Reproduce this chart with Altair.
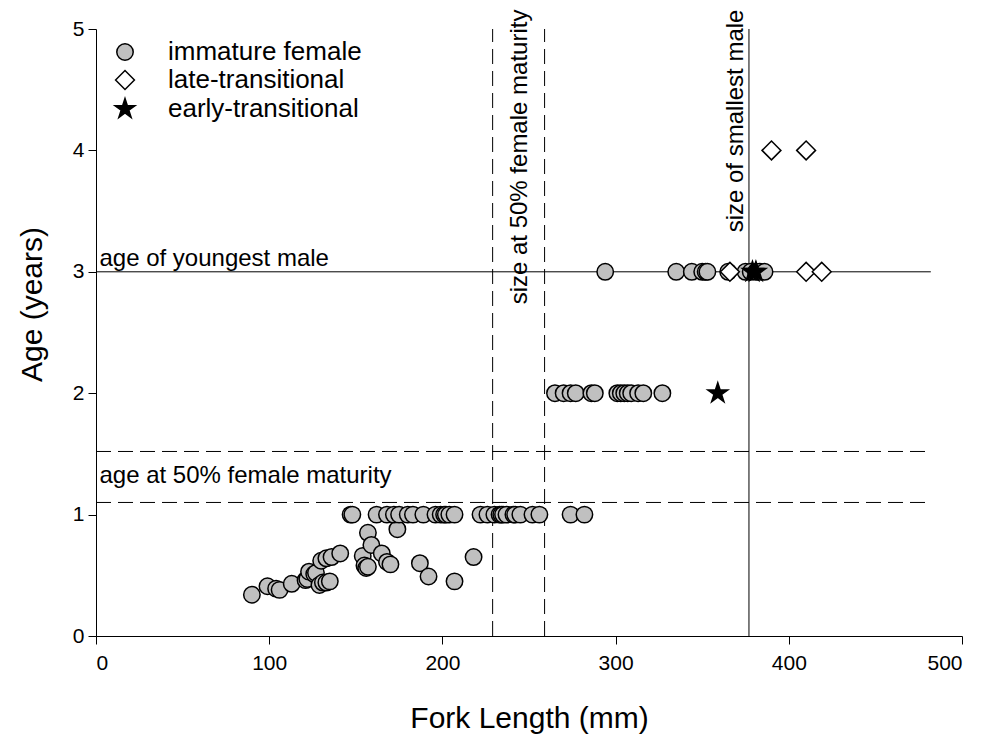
import altair as alt
import pandas as pd

FONT = "Liberation Sans"

# Immature females: fork length (mm) and age (years)
imm_len = [
    # age 0+ fish
    90, 99, 104, 106, 113, 121, 122, 123, 126, 127, 129, 130, 131, 133, 133,
    135, 136, 141, 154, 155, 156, 157, 157, 159, 165, 168, 170, 174, 187,
    192, 207, 218,
    # age 1
    147, 148, 162, 168, 172, 175, 180, 183, 189, 196, 199, 201, 202, 204,
    207, 222, 226, 230, 233, 234, 235, 237, 241, 242, 245, 252, 256, 274, 282,
    # age 2
    265, 270, 274, 277, 286, 288, 301, 303, 305, 307, 309, 313, 316, 327,
    # age 3
    294, 335, 344, 350, 352, 353, 365, 375, 378, 381, 383, 386,
]
imm_age = [
    0.34, 0.41, 0.39, 0.38, 0.43, 0.46, 0.47, 0.53, 0.51, 0.52, 0.42, 0.62,
    0.44, 0.64, 0.44, 0.45, 0.65, 0.68, 0.66, 0.58, 0.56, 0.85, 0.57, 0.75,
    0.68, 0.61, 0.59, 0.88, 0.60, 0.49, 0.45, 0.65,
    1, 1, 1, 1, 1, 1, 1, 1, 1, 1, 1, 1, 1, 1,
    1, 1, 1, 1, 1, 1, 1, 1, 1, 1, 1, 1, 1, 1, 1,
    2, 2, 2, 2, 2, 2, 2, 2, 2, 2, 2, 2, 2, 2,
    3, 3, 3, 3, 3, 3, 3, 3, 3, 3, 3, 3,
]

# Late-transitional fish
late_len = [366, 410, 419, 390, 410]
late_age = [3, 3, 3, 4, 4]

# Early-transitional fish
early_len = [379, 381, 359]
early_age = [3, 3, 2]

STAR = ("M0,-1L0.2245,-0.309L0.9511,-0.309L0.3633,0.118L0.5878,0.809"
        "L0,0.382L-0.5878,0.809L-0.3633,0.118L-0.9511,-0.309L-0.2245,-0.309Z")

stages = ["immature female", "late-transitional", "early-transitional"]
stage_shapes = ["circle", "diamond", STAR]
stage_fills = ["#c0c0c0", "#ffffff", "#000000"]
stage_strokes = ["#000000", "#000000", "#000000"]
stage_sizes = [270, 440, 900]

# Reference lines: sizes (mm) and ages (years)
vline_len = [229, 259, 377]
vline_style = ["dash", "dash", "solid"]
hline_age = [1.1, 1.52, 3.0]
hline_style = ["dash", "dash", "solid"]

points = pd.DataFrame({
    "length": imm_len + late_len + early_len,
    "age": imm_age + late_age + early_age,
    "stage": [stages[0]] * len(imm_len) + [stages[1]] * len(late_len)
    + [stages[2]] * len(early_len),
})

vlines = pd.DataFrame({"length": vline_len, "a0": 0, "a1": 5, "style": vline_style})
hlines = pd.DataFrame({"age": hline_age, "l0": 0, "l1": 482, "style": hline_style})

x_scale = alt.Scale(domain=[0, 500], nice=False, zero=False)
y_scale = alt.Scale(domain=[0, 5], nice=False, zero=False)
dash_scale = alt.Scale(domain=["dash", "solid"], range=[[15, 7], [1, 0]])

x_axis = alt.Axis(
    values=[0, 100, 200, 300, 400, 500], format="d", grid=False,
    title="Fork Length (mm)", titleFontSize=30, titleFont=FONT,
    titleFontWeight="normal", titleColor="black",
    titleX=433, titleY=82, titleBaseline="middle", titleAlign="center",
    labelFontSize=21, labelFont=FONT, labelColor="black", labelPadding=8,
    tickSize=8, tickColor="black", domainColor="black",
)
y_axis = alt.Axis(
    values=[0, 1, 2, 3, 4, 5], format="d", grid=False,
    title="Age (years)", titleFontSize=30, titleFont=FONT,
    titleFontWeight="normal", titleColor="black", titleAngle=270,
    titleX=-64, titleY=275, titleBaseline="middle", titleAlign="center",
    labelFontSize=21, labelFont=FONT, labelColor="black", labelPadding=4,
    tickSize=8, tickColor="black", domainColor="black",
)

legend = alt.Legend(
    title=None, orient="none", legendX=16, legendY=10,
    labelFontSize=26, labelFont=FONT, labelColor="black", labelOffset=30,
    labelLimit=400, symbolStrokeColor="black", symbolStrokeWidth=1.5,
    symbolOpacity=1, rowPadding=2, padding=0,
)

v_rules = alt.Chart(vlines).mark_rule(color="black", strokeWidth=1).encode(
    x=alt.X("length:Q", scale=x_scale, axis=x_axis),
    y=alt.Y("a0:Q", scale=y_scale, axis=y_axis),
    y2="a1:Q",
    strokeDash=alt.StrokeDash("style:N", scale=dash_scale, legend=None),
)
h_rules = alt.Chart(hlines).mark_rule(color="black", strokeWidth=1).encode(
    x=alt.X("l0:Q", scale=x_scale),
    x2="l1:Q",
    y=alt.Y("age:Q", scale=y_scale),
    strokeDash=alt.StrokeDash("style:N", scale=dash_scale, legend=None),
)

dots = alt.Chart(points).mark_point(
    filled=True, strokeWidth=1.5, opacity=1
).encode(
    x=alt.X("length:Q", scale=x_scale),
    y=alt.Y("age:Q", scale=y_scale),
    shape=alt.Shape("stage:N", scale=alt.Scale(domain=stages, range=stage_shapes), legend=legend),
    fill=alt.Fill("stage:N", scale=alt.Scale(domain=stages, range=stage_fills), legend=legend),
    stroke=alt.Stroke("stage:N", scale=alt.Scale(domain=stages, range=stage_strokes), legend=legend),
    size=alt.Size("stage:N", scale=alt.Scale(domain=stages, range=stage_sizes), legend=legend),
)


def h_label(text, length, age, dy):
    return alt.Chart(pd.DataFrame({"t": [text], "x": [length], "y": [age]})).mark_text(
        align="left", baseline="alphabetic", dy=dy, fontSize=24, font=FONT, color="black"
    ).encode(x=alt.X("x:Q", scale=x_scale), y=alt.Y("y:Q", scale=y_scale), text="t:N")


def v_label(text, length, age):
    return alt.Chart(pd.DataFrame({"t": [text], "x": [length], "y": [age]})).mark_text(
        align="right", baseline="alphabetic", angle=270, fontSize=24, font=FONT, color="black"
    ).encode(x=alt.X("x:Q", scale=x_scale), y=alt.Y("y:Q", scale=y_scale), text="t:N")


labels = [
    h_label("age of youngest male", 2, 3.0, -6),
    h_label("age at 50% female maturity", 2, 1.1, -19),
    v_label("size at 50% female maturity", 249, 5.16),
    v_label("size of smallest male", 373.5, 5.16),
]

chart = alt.layer(v_rules, h_rules, dots, *labels).properties(
    width=866, height=607,
    padding={"left": 96, "top": 29, "right": 23, "bottom": 106},
    autosize=alt.AutoSizeParams(type="none"),
    background="white",
).configure_view(stroke=None)

chart.save("out.html", embed_options={"renderer": "svg", "actions": False})
